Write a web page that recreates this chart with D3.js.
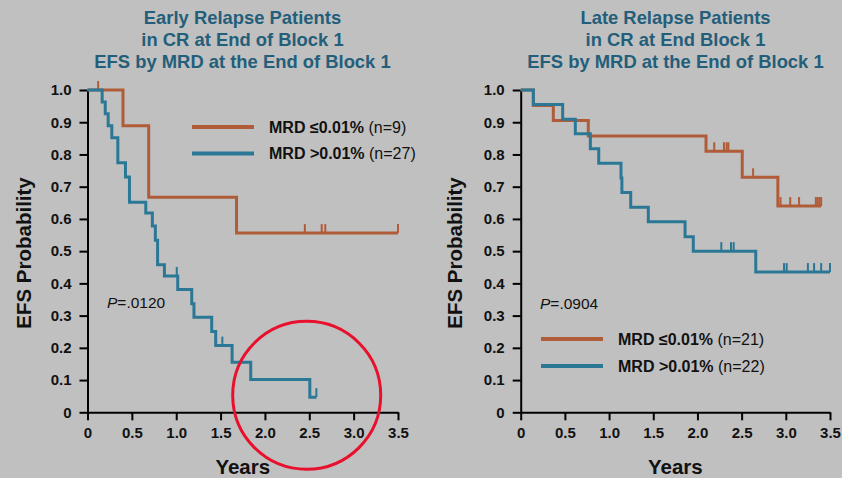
<!DOCTYPE html>
<html>
<head>
<meta charset="utf-8">
<script src="https://cdn.jsdelivr.net/npm/d3@7"></script>
<style>
  body { margin: 0; background: #c0c0c0; }
  svg { display: block; }
</style>
</head>
<body>
<svg id="chart" width="842" height="478"></svg>
<script>
// tick values
var yTicks = [0, 0.1, 0.2, 0.3, 0.4, 0.5, 0.6, 0.7, 0.8, 0.9, 1.0];
var xTicks = [0, 0.5, 1.0, 1.5, 2.0, 2.5, 3.0, 3.5];

// early relapse, MRD <= 0.01%
var earlyLowTimes = [0, 0.40, 0.69, 1.68];
var earlyLowSurv = [1.0, 0.889, 0.667, 0.556];
var earlyLowEnd = 3.5;
var earlyLowCensor = [0.12, 2.45, 2.64, 2.68, 3.5];

// early relapse, MRD > 0.01%
var earlyHighTimes = [0, 0.165, 0.20, 0.233, 0.274, 0.342, 0.428, 0.473, 0.657, 0.731, 0.765, 0.79, 0.867, 1.017, 1.175, 1.20, 1.40, 1.445, 1.63, 1.84, 2.506];
var earlyHighSurv = [1.0, 0.963, 0.926, 0.889, 0.852, 0.774, 0.730, 0.652, 0.618, 0.578, 0.534, 0.458, 0.423, 0.381, 0.337, 0.295, 0.251, 0.207, 0.155, 0.102, 0.047];
var earlyHighEnd = 2.58;
var earlyHighCensor = [1.006, 1.52, 2.58];

// late relapse, MRD <= 0.01%
var lateLowTimes = [0, 0.143, 0.369, 0.765, 2.097, 2.507, 2.91];
var lateLowSurv = [1.0, 0.952, 0.905, 0.857, 0.81, 0.729, 0.64];
var lateLowEnd = 3.40;
var lateLowCensor = [2.19, 2.30, 2.33, 2.35, 2.63, 2.94, 3.05, 3.15, 3.34, 3.36, 3.38, 3.40];

// late relapse, MRD > 0.01%
var lateHighTimes = [0, 0.143, 0.475, 0.618, 0.788, 0.883, 1.135, 1.145, 1.245, 1.444, 1.86, 1.953, 2.66];
var lateHighSurv = [1.0, 0.955, 0.909, 0.864, 0.818, 0.773, 0.727, 0.682, 0.636, 0.591, 0.545, 0.50, 0.435];
var lateHighEnd = 3.5;
var lateHighCensor = [2.27, 2.38, 2.41, 2.98, 3.01, 3.25, 3.32, 3.40, 3.50];

var orange = "#b05c38";
var blue = "#2a7896";
var titleColor = "#235e7a";
var font = "'Liberation Sans', Arial, sans-serif";

var svg = d3.select("#chart");

function survAt(times, surv, t) {
    var v = surv[0];
    for (var i = 0; i < times.length; i++) {
        if (times[i] <= t) v = surv[i];
    }
    return v;
}

//draw one KM curve with its censor marks
function drawCurve(g, x, y, times, surv, end, censor, color) {
    let pts = times.map((t, i) => [t, surv[i]]);
    pts.push([end, surv[surv.length - 1]]);
    let line = d3.line()
        .x(d => x(d[0]))
        .y(d => y(d[1]))
        .curve(d3.curveStepAfter);
    g.append("path")
        .attr("d", line(pts))
        .attr("fill", "none")
        .attr("stroke", color)
        .attr("stroke-width", 3)
        .attr("stroke-linejoin", "miter");
    g.selectAll(null)
        .data(censor)
        .enter()
        .append("line")
        .attr("x1", d => x(d))
        .attr("x2", d => x(d))
        .attr("y1", d => y(survAt(times, surv, d)))
        .attr("y2", d => y(survAt(times, surv, d)) - 9)
        .attr("stroke", color)
        .attr("stroke-width", 2);
}

function panel(opt) {
    let g = svg.append("g");
    let x = d3.scaleLinear().domain([0, 3.5]).range([opt.left, opt.right]);
    let y = d3.scaleLinear().domain([0, 1]).range([412.3, 90]);
    let fmt = d => d === 0 ? "0" : d3.format(".1f")(d);

    let yAxis = g.append("g")
        .attr("transform", "translate(" + opt.left + ",0)")
        .call(d3.axisLeft(y).tickValues(yTicks).tickFormat(fmt).tickSize(8).tickSizeOuter(0).tickPadding(8));
    let xAxis = g.append("g")
        .attr("transform", "translate(0,412.3)")
        .call(d3.axisBottom(x).tickValues(xTicks).tickFormat(fmt).tickSize(8).tickSizeOuter(0).tickPadding(7));
    [xAxis, yAxis].forEach(a => {
        a.selectAll("path, line").attr("stroke", "#000").attr("stroke-width", 2);
        a.selectAll("text")
            .attr("fill", "#111")
            .style("font-family", font)
            .style("font-weight", "bold")
            .style("font-size", "15px");
    });

    // titles
    let title = g.append("text")
        .attr("text-anchor", "middle")
        .attr("fill", titleColor)
        .style("font-family", font)
        .style("font-weight", "bold")
        .style("font-size", "18.4px");
    opt.title.forEach((t, i) => {
        title.append("tspan").attr("x", opt.titleX).attr("y", 24 + i * 22).text(t);
    });

    g.append("text")
        .attr("transform", "translate(" + opt.yLabelX + ",253) rotate(-90)")
        .attr("text-anchor", "middle")
        .attr("fill", "#111")
        .style("font-family", font)
        .style("font-weight", "bold")
        .style("font-size", "20.5px")
        .text("EFS Probability");

    g.append("text")
        .attr("x", (opt.left + opt.right) / 2)
        .attr("y", 474)
        .attr("text-anchor", "middle")
        .attr("fill", "#111")
        .style("font-family", font)
        .style("font-weight", "bold")
        .style("font-size", "20.5px")
        .text("Years");

    // p value
    let p = g.append("text")
        .attr("x", opt.pX)
        .attr("y", opt.pY)
        .attr("fill", "#111")
        .style("font-family", font)
        .style("font-size", "15.5px");
    p.append("tspan").style("font-style", "italic").text("P");
    p.append("tspan").text(opt.pText);

    // legend
    opt.legend.forEach((l, i) => {
        let ly = opt.legY + i * opt.legGap;
        g.append("line")
            .attr("x1", opt.legX).attr("x2", opt.legX + 62)
            .attr("y1", ly).attr("y2", ly)
            .attr("stroke", l.color).attr("stroke-width", 4);
        let t = g.append("text")
            .attr("x", opt.legX + 77)
            .attr("y", ly + 5.5)
            .attr("fill", "#111")
            .style("font-family", font)
            .style("font-size", "16px");
        t.append("tspan").style("font-weight", "bold").text(l.label);
        t.append("tspan").text(" " + l.n);
    });

    opt.curves.forEach(c => drawCurve(g, x, y, c[0], c[1], c[2], c[3], c[4]));
    return g;
}

panel({
    left: 87.5, right: 398,
    title: ["Early Relapse Patients", "in CR at End of Block 1", "EFS by MRD at the End of Block 1"],
    titleX: 242.5, yLabelX: 31,
    pX: 107, pY: 308, pText: "=.0120",
    legX: 192, legY: 127, legGap: 26.6,
    legend: [
        {label: "MRD \u22640.01%", n: "(n=9)", color: orange},
        {label: "MRD >0.01%", n: "(n=27)", color: blue}
    ],
    curves: [
        [earlyLowTimes, earlyLowSurv, earlyLowEnd, earlyLowCensor, orange],
        [earlyHighTimes, earlyHighSurv, earlyHighEnd, earlyHighCensor, blue]
    ]
});

panel({
    left: 520.7, right: 830,
    title: ["Late Relapse Patients", "in CR at End Block 1", "EFS by MRD at the End of Block 1"],
    titleX: 675.5, yLabelX: 462,
    pX: 540, pY: 309, pText: "=.0904",
    legX: 541, legY: 339, legGap: 27,
    legend: [
        {label: "MRD \u22640.01%", n: "(n=21)", color: orange},
        {label: "MRD >0.01%", n: "(n=22)", color: blue}
    ],
    curves: [
        [lateLowTimes, lateLowSurv, lateLowEnd, lateLowCensor, orange],
        [lateHighTimes, lateHighSurv, lateHighEnd, lateHighCensor, blue]
    ]
});

// red highlight circle
svg.append("circle")
    .attr("cx", 306.7)
    .attr("cy", 395.3)
    .attr("r", 74)
    .attr("fill", "none")
    .attr("stroke", "#e8102c")
    .attr("stroke-width", 3);
</script>
</body>
</html>
